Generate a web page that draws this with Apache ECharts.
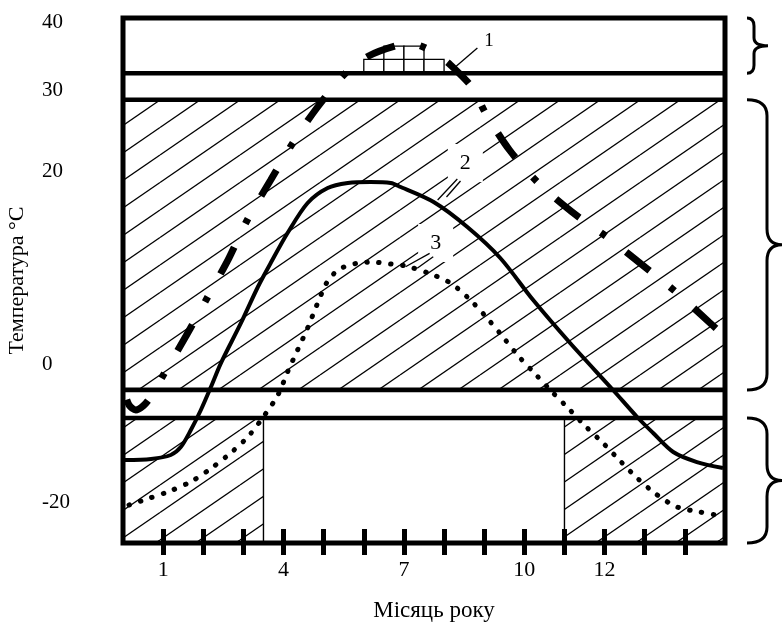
<!DOCTYPE html>
<html>
<head>
<meta charset="utf-8">
<script src="https://cdn.jsdelivr.net/npm/echarts@6/dist/echarts.min.js"></script>
<style>
  html, body { margin: 0; padding: 0; background: #fff; }
  #chart { width: 782px; height: 624px; }
</style>
</head>
<body>
<div id="chart"></div>
<script>
// --- data (x: tick index along the year, y: temperature) ---
var xTickValues = [1, 2, 3, 4, 5, 6, 7, 8, 9, 10, 11, 12, 13, 14];
var xLabelValues = [1, 4, 7, 10, 12];
var yTickLabels = ['40', '30', '20', '0', '-20'];
var yTickValues = [40, 31.5, 21.3, -2.7, -20];

// curve 1, dash-dot
var curve1 = [[0.05,-6.41],[0.15,-7.79],[0.32,-8.41],[0.50,-7.91],[0.65,-7.04],[1.02,-3.92],[1.57,0.82],
  [2.11,5.69],[2.64,10.55],[3.11,15.42],[3.68,20.29],[4.23,24.90],[4.83,29.27],[5.55,33.64],[6.12,35.76],
  [6.87,37.13],[7.21,37.26],[7.54,36.76],[7.91,35.63],[8.16,34.64],[8.71,31.77],[9.03,28.65],[9.63,24.03],
  [10.35,19.91],[11.19,16.29],[12.06,13.17],[12.91,9.81],[13.78,6.31],[14.60,2.57],[14.93,1.07]];
// curve 2, solid
var curve2 = [[0.05,-14.65],[0.70,-14.52],[1.19,-14.02],[1.44,-13.03],[1.69,-10.91],[1.94,-8.41],[2.19,-5.54],
  [2.44,-2.55],[2.94,2.45],[3.36,6.94],[3.68,9.93],[4.10,13.67],[4.60,17.42],[5.10,19.29],[5.60,19.91],
  [6.17,20.04],[6.67,19.91],[6.92,19.41],[7.74,17.54],[8.58,14.42],[9.40,10.56],[10.22,5.31],[11.14,-0.05],
  [12.21,-5.91],[12.81,-9.28],[13.21,-11.28],[13.71,-13.65],[14.30,-14.90],[14.95,-15.65]];
// curve 3, dotted
var curve3 = [[0.15,-20.26],[0.60,-19.51],[1.17,-18.52],[1.72,-17.27],[2.24,-15.52],[2.71,-13.65],[3.13,-11.65],
  [3.53,-9.03],[3.86,-6.54],[4.10,-3.67],[4.35,-0.92],[4.60,1.82],[4.83,4.69],[5.07,7.43],[5.27,8.68],
  [5.50,9.43],[5.87,9.93],[6.22,10.05],[6.67,9.81],[7.04,9.56],[7.61,8.68],[8.16,7.43],[8.63,5.44],
  [9.05,3.19],[9.45,0.82],[9.83,-1.55],[10.25,-3.79],[10.67,-6.04],[11.09,-8.16],[11.52,-10.41],
  [11.96,-12.53],[12.39,-14.77],[12.81,-16.89],[13.28,-18.89],[13.81,-20.51],[14.38,-21.14],[14.78,-21.51]];

// zones: [x0, x1, y0, y1]
var hatchZones = [[0, 15, -5.9, 30.3], [0, 3.5, -25, -9.4], [11, 15, -25, -9.4]];
var whiteZones = [[3.5, 11, -25, -9.4]];
var boundLines = [33.6, 30.3, -5.9, -9.4];
var bricks = [[6, 6.5, 33.6, 35.35], [6.5, 7, 33.6, 35.35], [7, 7.5, 33.6, 35.35], [7.5, 8, 33.6, 35.35],
  [6.5, 7, 35.35, 37.0], [7, 7.5, 35.35, 37.0]];
var braces = [[40.5, 33.6], [30.3, -5.9], [-9.4, -25]];

var calloutText = ['1', '2', '3'];
var calloutAt = [[9.12, 37.63], [8.53, 22.41], [7.79, 12.43]];
var leaders = [
  [[[8.83, 36.76], [8.28, 34.39]]],
  [[[8.33, 20.41], [7.84, 17.79]], [[8.41, 20.16], [8.06, 18.17]]],
  [[[7.73, 10.72], [7.33, 9.27]], [[7.64, 11.14], [7.04, 9.47]]]
];

var FONT = '"Liberation Serif", "Times New Roman", serif';

// diagonal hatch tile
function makeHatch() {
  var c = document.createElement('canvas');
  c.width = 80; c.height = 55;
  var g = c.getContext('2d');
  g.strokeStyle = '#000';
  g.lineWidth = 1.3;
  for (var n = -1; n <= 4; n++) {
    g.beginPath();
    g.moveTo(0, 17.5 + 27.5 * n);
    g.lineTo(80, -37.5 + 27.5 * n);
    g.stroke();
  }
  return c;
}
var hatch = { image: makeHatch(), repeat: 'repeat' };

function rectItem(api, fill, stroke, lw) {
  var p0 = api.coord([api.value(0), api.value(3)]);
  var p1 = api.coord([api.value(1), api.value(2)]);
  return {
    type: 'rect',
    shape: { x: p0[0], y: p0[1], width: p1[0] - p0[0], height: p1[1] - p0[1] },
    style: { fill: fill, stroke: stroke, lineWidth: lw }
  };
}

var myChart = echarts.init(document.getElementById('chart'));

var option = {
  animation: false,
  backgroundColor: '#fff',
  grid: {
    show: true, z: 10,
    left: 123, right: 57, top: 18, bottom: 81,
    outerBoundsMode: 'none',
    borderColor: '#000', borderWidth: 5,
    backgroundColor: 'rgba(0,0,0,0)'
  },
  xAxis: [{
    type: 'value', min: 0, max: 15, position: 'bottom', z: 20,
    name: 'Місяць року', nameLocation: 'middle', nameGap: 56,
    nameTextStyle: { fontFamily: FONT, fontSize: 23, color: '#000', padding: [0, 0, 0, 20] },
    axisLine: { show: false, onZero: false },
    splitLine: { show: false },
    axisTick: { show: true, customValues: xTickValues, length: 12, lineStyle: { color: '#000', width: 5 } },
    axisLabel: {
      customValues: xLabelValues, margin: 16, color: '#000', fontFamily: FONT, fontSize: 22,
      formatter: function (v) { return String(v); }
    }
  }, {
    type: 'value', min: 0, max: 15, position: 'bottom', z: 20,
    axisLine: { show: false, onZero: false },
    splitLine: { show: false },
    axisTick: { show: true, inside: true, customValues: xTickValues, length: 14, lineStyle: { color: '#000', width: 5 } },
    axisLabel: { show: false }
  }],
  yAxis: {
    type: 'value', min: -25, max: 40.5,
    name: 'Температура °C', nameLocation: 'middle', nameGap: 95,
    nameTextStyle: { fontFamily: FONT, fontSize: 22, color: '#000' },
    axisLine: { show: false, onZero: false },
    axisTick: { show: false },
    splitLine: { show: false },
    axisLabel: {
      customValues: yTickValues, align: 'left', margin: 81,
      color: '#000', fontFamily: FONT, fontSize: 21,
      formatter: function (v) {
        var best = 0;
        for (var i = 1; i < yTickValues.length; i++) {
          if (Math.abs(yTickValues[i] - v) < Math.abs(yTickValues[best] - v)) best = i;
        }
        return yTickLabels[best];
      }
    }
  },
  series: [
    {
      name: 'hatch', type: 'custom', data: hatchZones, silent: true,
      renderItem: function (params, api) { return rectItem(api, hatch, null, 0); }
    },
    {
      name: 'white', type: 'custom', data: whiteZones, silent: true,
      renderItem: function (params, api) { return rectItem(api, '#fff', '#000', 1.4); }
    },
    {
      name: 'bricks', type: 'custom', data: bricks, silent: true,
      renderItem: function (params, api) { return rectItem(api, '#fff', '#000', 1.3); }
    },
    {
      name: 'bounds', type: 'custom', data: boundLines, silent: true,
      renderItem: function (params, api) {
        var a = api.coord([0, api.value(0)]);
        var b = api.coord([15, api.value(0)]);
        return { type: 'line', shape: { x1: a[0], y1: a[1], x2: b[0], y2: b[1] },
          style: { stroke: '#000', lineWidth: 4.6 } };
      }
    },
    {
      name: '1', type: 'line', data: curve1, smooth: 0.3, symbol: 'none', silent: true,
      lineStyle: { color: '#000', width: 7, type: [30, 26, 6, 26], dashOffset: -6, cap: 'butt' }
    },
    {
      name: '2', type: 'line', data: curve2, smooth: 0.3, symbol: 'none', silent: true,
      lineStyle: { color: '#000', width: 4 }
    },
    {
      name: '3', type: 'line', data: curve3, smooth: 0.3, symbol: 'none', silent: true,
      lineStyle: { color: '#000', width: 5, type: [0.5, 11.5], cap: 'round' }
    },
    {
      name: 'callouts', type: 'custom', data: calloutText, silent: true, clip: false,
      renderItem: function (params, api) {
        var i = params.dataIndex;
        var p = api.coord(calloutAt[i]);
        var kids = [{
          type: 'text', x: p[0], y: p[1],
          style: {
            text: calloutText[i], fill: '#000', fontFamily: FONT, fontSize: i === 0 ? 19 : 22,
            align: 'center', verticalAlign: 'middle',
            backgroundColor: i === 0 ? 'transparent' : '#fff', padding: [8, 12]
          }
        }];
        leaders[i].forEach(function (seg) {
          var a = api.coord(seg[0]), b = api.coord(seg[1]);
          kids.push({ type: 'line', shape: { x1: a[0], y1: a[1], x2: b[0], y2: b[1] },
            style: { stroke: '#000', lineWidth: 1.3 } });
        });
        return { type: 'group', children: kids };
      }
    },
    {
      name: 'braces', type: 'custom', data: braces, silent: true, clip: false,
      renderItem: function (params, api) {
        var top = api.coord([15, api.value(0)]);
        var bot = api.coord([15, api.value(1)]);
        var small = (bot[1] - top[1]) < 80;
        var x0 = top[0] + 22;
        var xv = x0 + (small ? 7 : 20);
        var xt = xv + (small ? 14 : 15);
        var r = small ? 8 : 16;
        var y0 = top[1], y1 = bot[1], ym = (y0 + y1) / 2;
        var d = 'M' + x0 + ' ' + y0 + ' Q' + xv + ' ' + y0 + ' ' + xv + ' ' + (y0 + r) +
          ' L' + xv + ' ' + (ym - r) + ' Q' + xv + ' ' + ym + ' ' + xt + ' ' + ym +
          ' Q' + xv + ' ' + ym + ' ' + xv + ' ' + (ym + r) +
          ' L' + xv + ' ' + (y1 - r) + ' Q' + xv + ' ' + y1 + ' ' + x0 + ' ' + y1;
        return { type: 'path', shape: { pathData: d },
          style: { fill: null, stroke: '#000', lineWidth: 3 } };
      }
    }
  ]
};

myChart.setOption(option);
</script>
</body>
</html>
